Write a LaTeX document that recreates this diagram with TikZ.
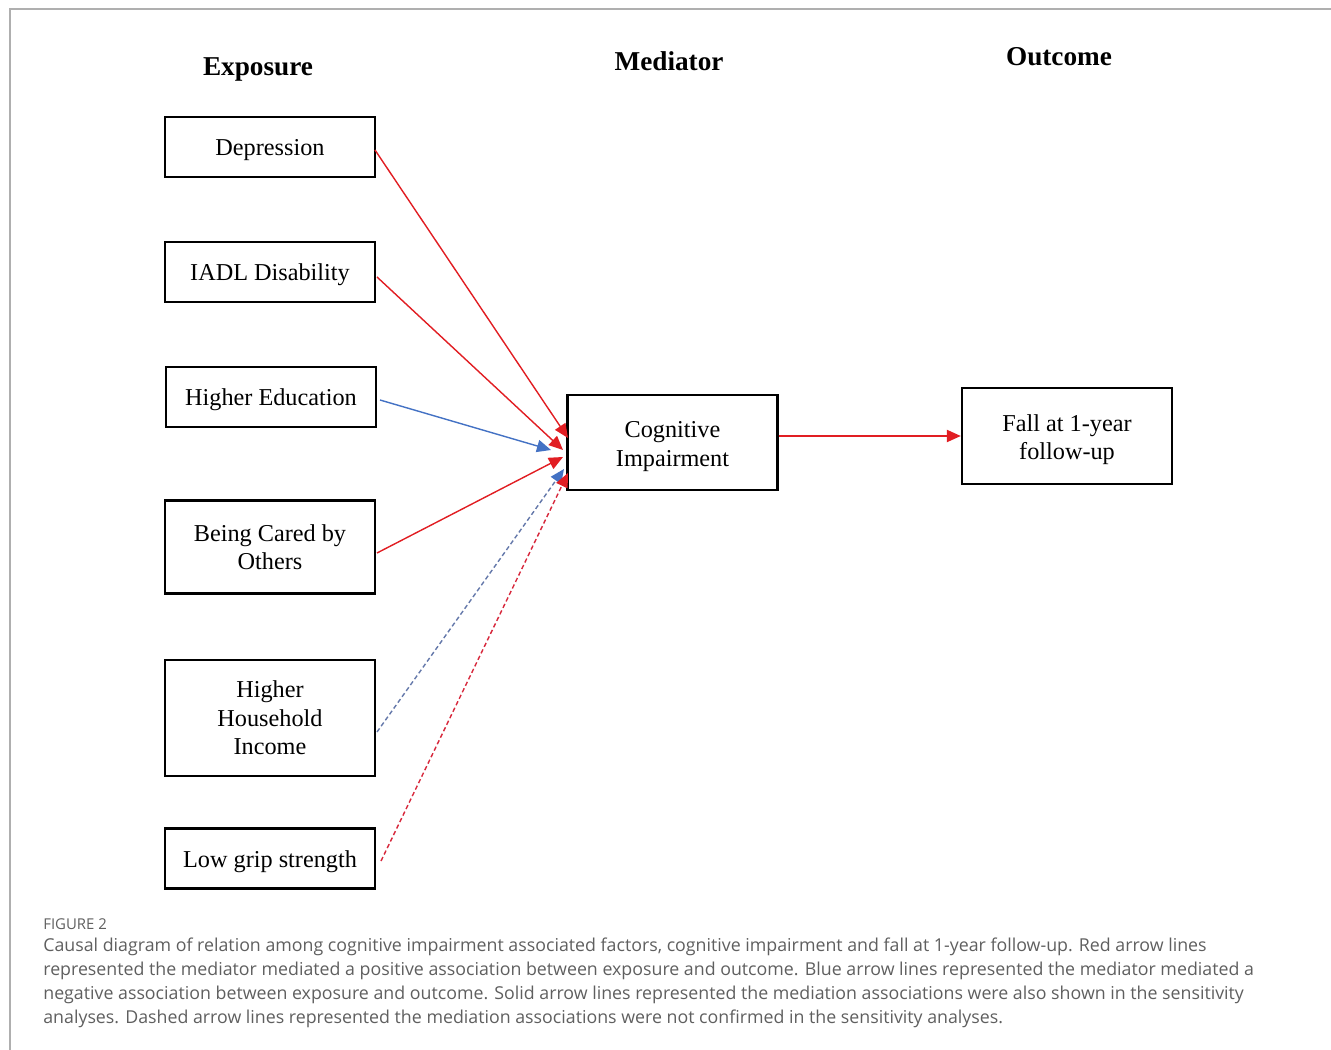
\documentclass[tikz,border=0pt]{standalone}
\usepackage{fontspec}
\setmainfont{Liberation Serif}
\newfontfamily\capfont{Open Sans}
\usetikzlibrary{arrows.meta}
\definecolor{arrred}{RGB}{225,30,35}
\definecolor{arrblue}{RGB}{68,114,196}
\definecolor{dashblue}{RGB}{100,120,170}
\definecolor{dashred}{RGB}{215,40,60}
\definecolor{capgray}{RGB}{95,95,95}
\definecolor{framegray}{RGB}{175,175,175}
\tikzset{
  box/.style={draw, line width=1.4pt, minimum width=4.2cm, align=center, inner sep=2pt,
    font=\fontsize{13.8}{16.2}\selectfont,
    execute at begin node={\rule{0pt}{12.8pt}}},
  lowbox/.style={box, execute at begin node={\rule{0pt}{30pt}}},
  header/.style={font=\bfseries\fontsize{15.5}{18}\selectfont},
  tipstyle/.style={-{Triangle[length=8pt,width=7pt]}},
  redarrow/.style={tipstyle, draw=arrred, fill=arrred, line width=0.8pt},
  bluearrow/.style={tipstyle, draw=arrblue, fill=arrblue, line width=0.8pt},
  dashbluearrow/.style={tipstyle, draw=dashblue, line width=0.8pt, dash pattern=on 2.5pt off 1.6pt,
    -{Triangle[length=8pt,width=7pt,fill=arrblue,color=arrblue]}},
  dashredarrow/.style={tipstyle, draw=dashred, line width=0.8pt, dash pattern=on 2.5pt off 1.6pt,
    -{Triangle[length=8pt,width=7pt,fill=arrred,color=arrred]}},
  captext/.style={anchor=west, inner sep=0pt, text=capgray, font=\capfont\fontsize{10.12}{12}\selectfont},
  frameline/.style={draw=framegray, line width=0.8pt}
}
\begin{document}
\begin{tikzpicture}[x=0.02cm,y=-0.02cm]
\useasboundingbox (0,0) rectangle (1331,1050);
% frame
\coordinate (fbl) at (10,1050);
\coordinate (ftl) at (10,9);
\coordinate (ftr) at (1331,9);
\draw[frameline] (fbl) -- (ftl) -- (ftr);

% headers
\node[header] (hexp) at (258,69) {Exposure};
\node[header] (hmed) at (669,61.5) {Mediator};
\node[header] (hout) at (1059,57) {Outcome};

% exposure boxes
\node[box, minimum height=1.2cm] (dep) at (270,147) {Depression};
\node[box, minimum height=1.2cm] (iadl) at (270,272) {IADL Disability};
\node[box, minimum height=1.2cm] (edu) at (271,397) {Higher Education};
\node[box, minimum height=1.86cm] (care) at (270,547) {Being Cared by\\Others};
\node[box, minimum height=2.32cm] (inc) at (270,718) {Higher\\Household\\Income};
\node[box, minimum height=1.2cm] (grip) at (270,858.5) {Low grip strength};

% mediator and outcome
\node[lowbox, minimum height=1.9cm] (cog) at (672.5,442.5) {Cognitive\\Impairment};
\node[lowbox, minimum height=1.92cm] (fall) at (1067,436) {Fall at 1-year\\follow-up};

% arrow start/end points
\coordinate (sdep) at (375,150);
\coordinate (siadl) at (377,277);
\coordinate (sedu) at (380,400);
\coordinate (scare) at (377,553);
\coordinate (sinc) at (377,732);
\coordinate (sgrip) at (381,861);

\coordinate (tdep) at (568,438);
\coordinate (tiadl) at (563,450);
\coordinate (tedu) at (551,450);
\coordinate (tcare) at (563,457);
\coordinate (tinc) at (564,469);
\coordinate (tgrip) at (568,473);

\draw[redarrow] (sdep) -- (tdep);
\draw[redarrow] (siadl) -- (tiadl);
\draw[bluearrow] (sedu) -- (tedu);
\draw[redarrow] (scare) -- (tcare);
\draw[dashbluearrow] (sinc) -- (tinc);
\draw[dashredarrow] (sgrip) -- (tgrip);

\draw[redarrow] (cog.east |- fall.west) -- (fall.west);

% caption
\node[captext, font=\capfont\fontsize{8.5}{10}\selectfont] (figlab) at (43,924) {FIGURE 2};
\node[captext] (cap1) at (43,947) {Causal diagram of relation among cognitive impairment associated factors, cognitive impairment and fall at 1-year follow-up. Red arrow lines};
\node[captext] (cap2) at (43,971) {represented the mediator mediated a positive association between exposure and outcome. Blue arrow lines represented the mediator mediated a};
\node[captext] (cap3) at (43,995) {negative association between exposure and outcome. Solid arrow lines represented the mediation associations were also shown in the sensitivity};
\node[captext] (cap4) at (43,1019) {analyses. Dashed arrow lines represented the mediation associations were not confirmed in the sensitivity analyses.};
\end{tikzpicture}
\end{document}
